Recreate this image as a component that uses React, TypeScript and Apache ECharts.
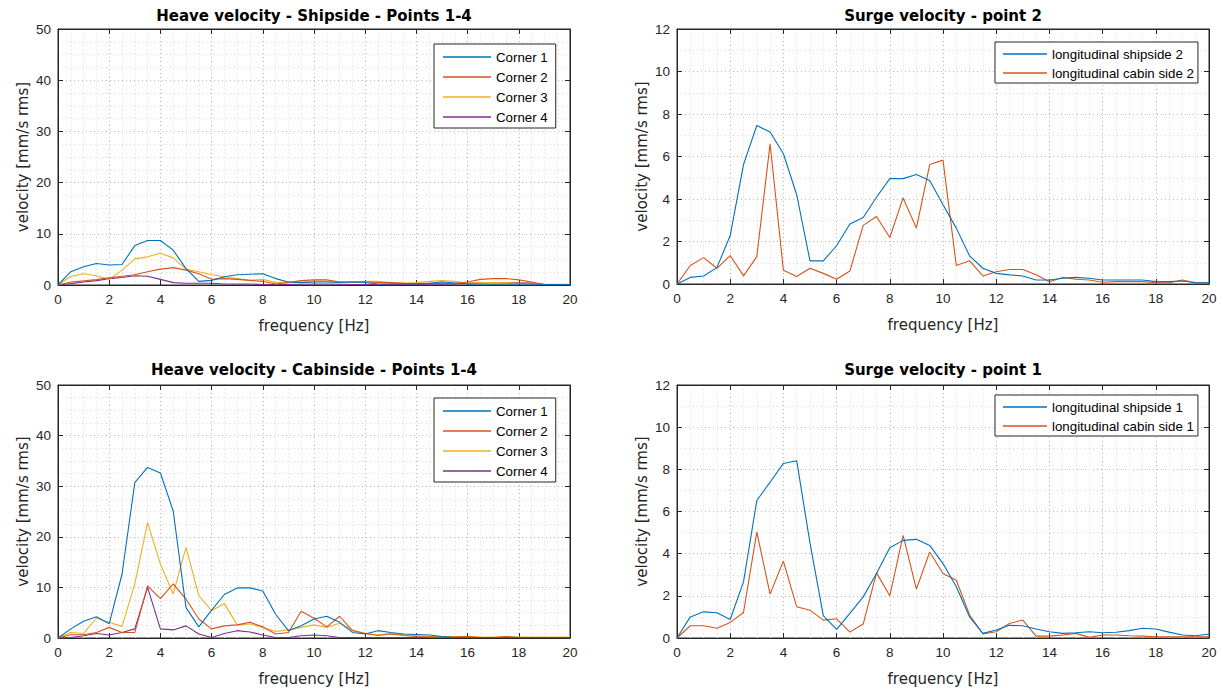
import React, { useEffect, useRef } from "react";
import * as echarts from "echarts";

// frequency axis values [Hz]
const freq = [0, 0.5, 1, 1.5, 2, 2.5, 3, 3.5, 4, 4.5, 5, 5.5, 6, 6.5, 7, 7.5, 8, 8.5, 9, 9.5, 10, 10.5, 11, 11.5, 12, 12.5, 13, 13.5, 14, 14.5, 15, 15.5, 16, 16.5, 17, 17.5, 18, 18.5, 19, 19.5, 20];

// Heave velocity - Shipside
const shipCorner1 = [0, 2.6, 3.55, 4.2, 3.9, 4.0, 7.7, 8.7, 8.7, 6.8, 3.2, 0.7, 0.9, 1.6, 2.0, 2.1, 2.2, 1.25, 0.6, 0.46, 0.6, 0.6, 0.5, 0.6, 0.5, 0.2, 0.25, 0.25, 0.2, 0.35, 0.6, 0.4, 0.2, 0.2, 0.15, 0.2, 0.2, 0.2, 0.1, 0.1, 0.1];
const shipCorner2 = [0, 0.6, 0.8, 1.05, 1.4, 1.7, 2.0, 2.6, 3.1, 3.4, 2.9, 2.2, 1.1, 1.25, 1.1, 0.9, 0.7, 0.2, 0.46, 0.85, 1.0, 1.0, 0.6, 0.6, 0.6, 0.5, 0.5, 0.35, 0.3, 0.35, 0.3, 0.3, 0.6, 1.1, 1.25, 1.25, 1.0, 0.6, 0.1, 0.1, 0.1];
const shipCorner3 = [0, 1.7, 2.2, 1.8, 1.05, 2.9, 5.1, 5.5, 6.2, 5.3, 3.1, 2.6, 2.0, 1.6, 1.25, 0.9, 1.1, 0.46, 0.6, 0.6, 0.7, 0.7, 0.6, 0.6, 0.7, 0.7, 0.46, 0.4, 0.46, 0.7, 0.85, 0.7, 0.4, 0.46, 0.46, 0.46, 0.33, 0.33, 0.13, 0.13, 0.13];
const shipCorner4 = [0, 0.26, 0.6, 0.85, 1.25, 1.45, 1.8, 1.7, 1.1, 0.46, 0.33, 0.33, 0.33, 0.2, 0.2, 0.2, 0.1, 0.1, 0.1, 0.15, 0.2, 0.2, 0.15, 0.1, 0.1, 0.1, 0.1, 0.1, 0.1, 0.15, 0.15, 0.2, 0.3, 0.45, 0.45, 0.45, 0.45, 0.4, 0.1, 0.1, 0.1];

// Heave velocity - Cabinside
const cabinCorner1 = [0, 1.8, 3.3, 4.2, 2.8, 12.6, 30.7, 33.7, 32.6, 25.1, 6.0, 2.2, 5.5, 8.6, 9.9, 9.9, 9.3, 4.7, 1.45, 2.4, 3.75, 4.3, 3.1, 1.1, 0.8, 1.45, 1.1, 0.8, 0.7, 0.6, 0.3, 0.1, 0.1, 0.1, 0.1, 0.1, 0.1, 0.1, 0.1, 0.1, 0.1];
const cabinCorner2 = [0, 0.65, 0.65, 1.1, 2.1, 1.1, 1.1, 10.3, 7.8, 10.7, 7.7, 3.75, 1.8, 2.4, 2.6, 3.1, 2.2, 0.8, 1.1, 5.3, 3.9, 2.2, 4.3, 1.45, 0.9, 0.5, 0.8, 0.5, 0.3, 0.2, 0.2, 0.2, 0.3, 0.1, 0.1, 0.3, 0.1, 0.1, 0.1, 0.1, 0.1];
const cabinCorner3 = [0, 1.1, 0.9, 3.9, 3.1, 2.3, 10.7, 22.8, 14.6, 8.7, 17.9, 8.4, 5.4, 6.8, 2.6, 2.8, 2.1, 1.3, 1.6, 2.1, 2.6, 2.1, 2.9, 1.6, 0.9, 0.65, 0.9, 0.65, 0.5, 0.3, 0.3, 0.3, 0.3, 0.2, 0.2, 0.2, 0.2, 0.2, 0.2, 0.2, 0.2];
const cabinCorner4 = [0, 0.1, 0.45, 0.9, 0.6, 1.1, 1.8, 10.0, 1.8, 1.6, 2.4, 0.8, 0.1, 0.9, 1.45, 1.2, 0.6, 0.1, 0.1, 0.45, 0.6, 0.45, 0.1, 0.1, 0.1, 0.1, 0.1, 0.1, 0.1, 0.1, 0.1, 0.1, 0.1, 0.1, 0.1, 0.1, 0.1, 0.1, 0.1, 0.1, 0.1];

// Surge velocity - point 2
const longShip2 = [0, 0.31, 0.38, 0.77, 2.28, 5.62, 7.46, 7.15, 6.13, 4.2, 1.09, 1.09, 1.8, 2.82, 3.13, 4.08, 4.96, 4.96, 5.15, 4.87, 3.73, 2.63, 1.32, 0.74, 0.5, 0.43, 0.38, 0.19, 0.19, 0.27, 0.31, 0.27, 0.19, 0.19, 0.19, 0.19, 0.11, 0.11, 0.14, 0.06, 0.06];
const longCabin2 = [0, 0.87, 1.24, 0.74, 1.34, 0.38, 1.29, 6.6, 0.65, 0.35, 0.74, 0.5, 0.22, 0.61, 2.76, 3.18, 2.19, 4.05, 2.63, 5.62, 5.83, 0.87, 1.09, 0.38, 0.58, 0.68, 0.68, 0.43, 0.11, 0.31, 0.22, 0.19, 0.08, 0.11, 0.11, 0.11, 0.06, 0.06, 0.19, 0.06, 0.06];

// Surge velocity - point 1
const longShip1 = [0, 1.0, 1.24, 1.2, 0.88, 2.66, 6.52, 7.39, 8.28, 8.41, 4.5, 1.06, 0.41, 1.17, 1.95, 3.06, 4.28, 4.63, 4.68, 4.39, 3.53, 2.43, 1.0, 0.22, 0.38, 0.6, 0.58, 0.43, 0.3, 0.22, 0.25, 0.3, 0.25, 0.27, 0.35, 0.46, 0.43, 0.28, 0.14, 0.11, 0.19];
const longCabin1 = [0, 0.58, 0.58, 0.46, 0.74, 1.21, 5.02, 2.08, 3.65, 1.48, 1.32, 0.85, 0.91, 0.28, 0.66, 3.09, 2.0, 4.87, 2.32, 4.08, 3.06, 2.74, 1.09, 0.19, 0.3, 0.69, 0.85, 0.09, 0.09, 0.14, 0.22, 0.03, 0.14, 0.14, 0.11, 0.09, 0.06, 0.06, 0.06, 0.06, 0.06];

const titles = [
  "Heave velocity - Shipside - Points 1-4",
  "Surge velocity - point 2",
  "Heave velocity - Cabinside - Points 1-4",
  "Surge velocity - point 1",
];
const cornerNames = ["Corner 1", "Corner 2", "Corner 3", "Corner 4"];
const surge2Names = ["longitudinal shipside 2", "longitudinal cabin side 2"];
const surge1Names = ["longitudinal shipside 1", "longitudinal cabin side 1"];
const xName = "frequency [Hz]";
const yName = "velocity [mm/s rms]";

const COLORS = ["#0072BD", "#D95319", "#EDB120", "#7E2F8E"];
const AX = "#262626";
const SANS = '"Liberation Sans", Arial, sans-serif';
const DEJ = '"DejaVu Sans", sans-serif';

const GRIDS = [
  { left: 58, top: 29, width: 512, height: 256 },
  { left: 677, top: 29, width: 532, height: 255 },
  { left: 58, top: 385, width: 512, height: 253 },
  { left: 677, top: 385, width: 532, height: 253 },
];
const YMAX = [50, 12, 50, 12];
const YINT = [10, 2, 10, 2];
const YMINOR = [4, 2, 4, 2];

const panelSeries = [
  { names: cornerNames, data: [shipCorner1, shipCorner2, shipCorner3, shipCorner4] },
  { names: surge2Names, data: [longShip2, longCabin2] },
  { names: cornerNames, data: [cabinCorner1, cabinCorner2, cabinCorner3, cabinCorner4] },
  { names: surge1Names, data: [longShip1, longCabin1] },
];

const legendPos = [
  { left: 434, top: 44, padding: [6, 8, 4, 9], itemWidth: 48, itemGap: 6 },
  { left: 995, top: 42, padding: [5, 4, 3, 8], itemWidth: 44, itemGap: 5 },
  { left: 434, top: 398, padding: [6, 8, 4, 9], itemWidth: 48, itemGap: 6 },
  { left: 995, top: 395, padding: [5, 4, 3, 8], itemWidth: 44, itemGap: 5 },
];

function buildOption() {
  const grid = GRIDS.map((g) => ({
    ...g,
    show: true,
    backgroundColor: "#ffffff",
    borderColor: AX,
    borderWidth: 1,
    containLabel: false,
  }));

  const gridLine = { show: true, lineStyle: { color: "#b8b8b8", width: 1, type: [1, 3] } };
  const minorLine = { show: true, lineStyle: { color: "#d9d9d9", width: 1, type: [1, 3] } };

  const xAxis: any[] = [];
  const yAxis: any[] = [];
  GRIDS.forEach((_, i) => {
    xAxis.push({
      type: "value",
      gridIndex: i,
      min: 0,
      max: 20,
      interval: 2,
      position: "bottom",
      name: xName,
      nameLocation: "middle",
      nameGap: 33,
      nameTextStyle: { fontFamily: DEJ, fontSize: 15, color: AX },
      axisLine: { show: true, onZero: false, lineStyle: { color: AX, width: 1 } },
      axisTick: { show: true, inside: true, length: 5, lineStyle: { color: AX } },
      axisLabel: { show: true, margin: 7, fontFamily: SANS, fontSize: 13.5, color: AX },
      splitLine: gridLine,
      minorTick: { show: false, splitNumber: 4 },
      minorSplitLine: minorLine,
    });
    yAxis.push({
      type: "value",
      gridIndex: i,
      min: 0,
      max: YMAX[i],
      interval: YINT[i],
      position: "left",
      name: yName,
      nameLocation: "middle",
      nameGap: 28,
      nameRotate: 90,
      nameTextStyle: { fontFamily: DEJ, fontSize: 15, color: AX },
      axisLine: { show: true, onZero: false, lineStyle: { color: AX, width: 1 } },
      axisTick: { show: true, inside: true, length: 5, lineStyle: { color: AX } },
      axisLabel: { show: true, margin: 7, fontFamily: SANS, fontSize: 13.5, color: AX },
      splitLine: gridLine,
      minorTick: { show: false, splitNumber: YMINOR[i] },
      minorSplitLine: minorLine,
    });
  });
  // secondary axes for the ticks on the top and right sides of each box
  GRIDS.forEach((_, i) => {
    xAxis.push({
      type: "value",
      gridIndex: i,
      min: 0,
      max: 20,
      interval: 2,
      position: "top",
      axisLine: { show: true, onZero: false, lineStyle: { color: AX, width: 1 } },
      axisTick: { show: true, inside: true, length: 5, lineStyle: { color: AX } },
      axisLabel: { show: false },
      splitLine: { show: false },
    });
    yAxis.push({
      type: "value",
      gridIndex: i,
      min: 0,
      max: YMAX[i],
      interval: YINT[i],
      position: "right",
      axisLine: { show: true, onZero: false, lineStyle: { color: AX, width: 1 } },
      axisTick: { show: true, inside: true, length: 5, lineStyle: { color: AX } },
      axisLabel: { show: false },
      splitLine: { show: false },
    });
  });

  const series: any[] = [];
  panelSeries.forEach((p, gi) => {
    p.data.forEach((vals, si) => {
      series.push({
        type: "line",
        name: p.names[si],
        xAxisIndex: gi,
        yAxisIndex: gi,
        data: freq.map((f, k) => [f, vals[k]]),
        symbol: "none",
        showSymbol: false,
        color: COLORS[si],
        lineStyle: { color: COLORS[si], width: 1.1 },
        z: 3 + (p.data.length - si),
        clip: true,
      });
    });
  });

  const legend = panelSeries.map((p, i) => ({
    show: true,
    orient: "vertical",
    left: legendPos[i].left,
    top: legendPos[i].top,
    padding: legendPos[i].padding,
    itemGap: legendPos[i].itemGap,
    itemWidth: legendPos[i].itemWidth,
    itemHeight: 1.5,
    icon: "rect",
    backgroundColor: "#ffffff",
    borderColor: AX,
    borderWidth: 1,
    borderRadius: 0,
    selectedMode: false,
    data: p.names,
    textStyle: { fontFamily: SANS, fontSize: 13.3, color: "#000", lineHeight: 14 },
  }));

  const titleCenters = [
    { x: 314, y: 15.5 },
    { x: 943, y: 15.5 },
    { x: 314, y: 370 },
    { x: 943, y: 370 },
  ];
  const graphic = titles.map((t, i) => ({
    type: "text",
    x: titleCenters[i].x,
    y: titleCenters[i].y,
    z: 10,
    style: {
      text: t,
      font: 'bold 15px "DejaVu Sans", sans-serif',
      fill: "#000",
      align: "center",
      verticalAlign: "middle",
      textAlign: "center",
      textVerticalAlign: "middle",
    },
  }));

  return {
    animation: false,
    backgroundColor: "#ffffff",
    grid,
    xAxis,
    yAxis,
    series,
    legend,
    graphic,
  };
}

export default function App() {
  const ref = useRef<HTMLDivElement>(null);
  useEffect(() => {
    if (!ref.current) return;
    const chart = echarts.init(ref.current, null, { renderer: "svg" });
    chart.setOption(buildOption() as any);
    return () => chart.dispose();
  }, []);
  return (
    <div
      ref={ref}
      style={{ position: "fixed", left: 0, top: 0, width: 1223, height: 693, background: "#fff" }}
    />
  );
}
